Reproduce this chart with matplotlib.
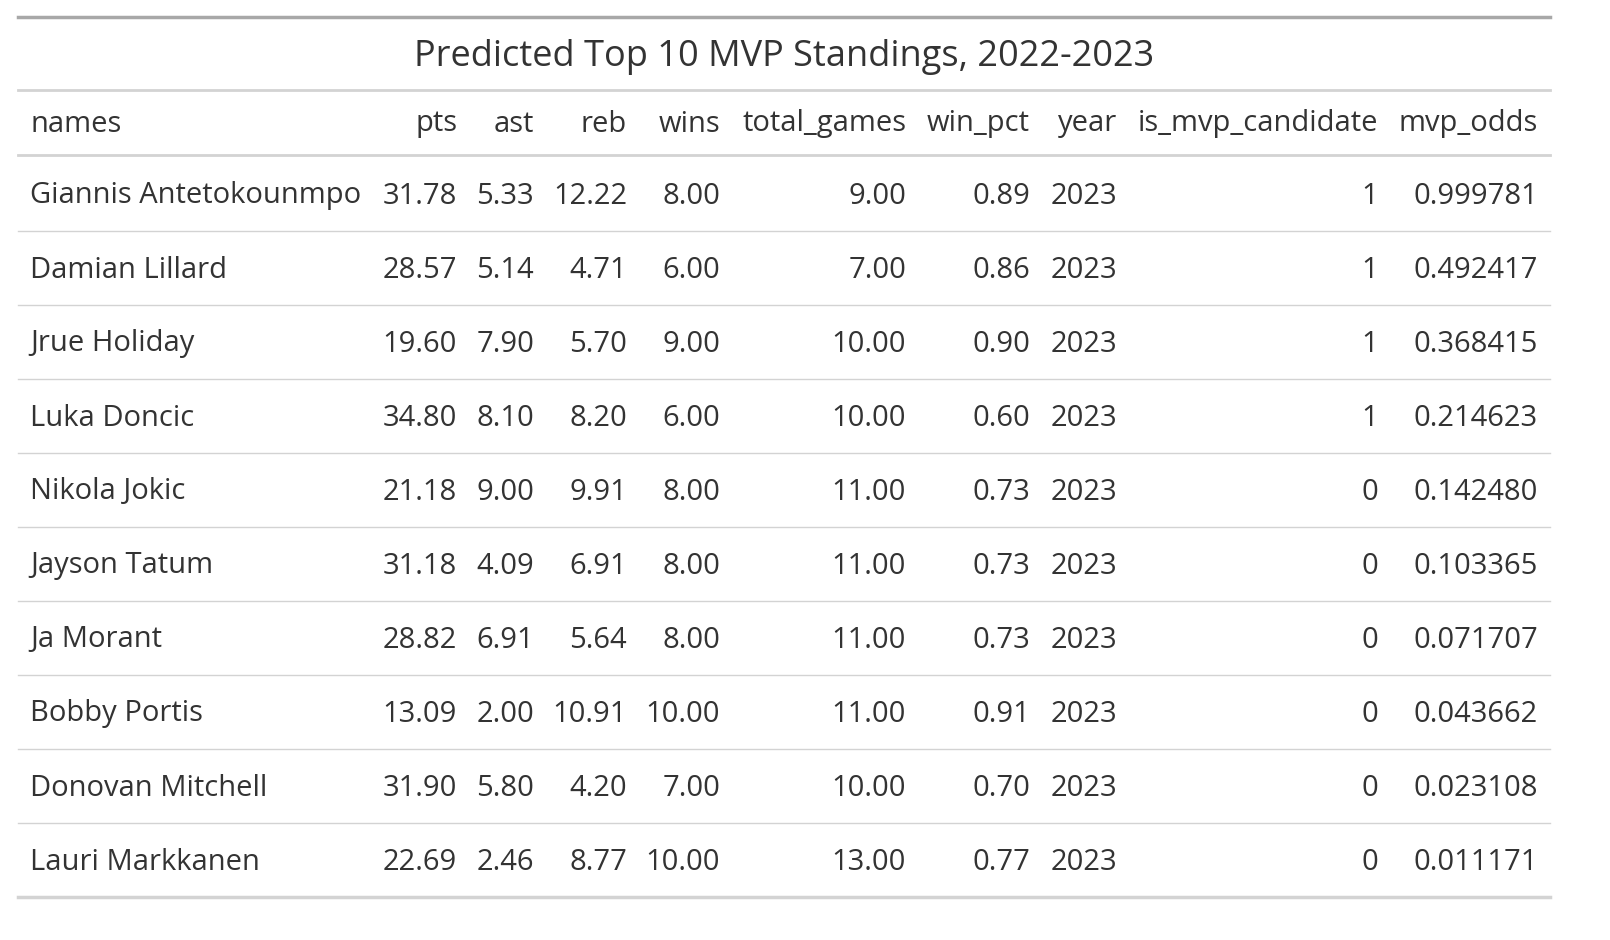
import matplotlib.pyplot as plt

names = ["Giannis Antetokounmpo", "Damian Lillard", "Jrue Holiday", "Luka Doncic",
         "Nikola Jokic", "Jayson Tatum", "Ja Morant", "Bobby Portis",
         "Donovan Mitchell", "Lauri Markkanen"]
pts = [31.78, 28.57, 19.60, 34.80, 21.18, 31.18, 28.82, 13.09, 31.90, 22.69]
ast = [5.33, 5.14, 7.90, 8.10, 9.00, 4.09, 6.91, 2.00, 5.80, 2.46]
reb = [12.22, 4.71, 5.70, 8.20, 9.91, 6.91, 5.64, 10.91, 4.20, 8.77]
wins = [8, 6, 9, 6, 8, 8, 8, 10, 7, 10]
total_games = [9, 7, 10, 10, 11, 11, 11, 11, 10, 13]
win_pct = [0.89, 0.86, 0.90, 0.60, 0.73, 0.73, 0.73, 0.91, 0.70, 0.77]
year = [2023] * 10
is_mvp_candidate = [1, 1, 1, 1, 0, 0, 0, 0, 0, 0]
mvp_odds = [0.999781, 0.492417, 0.368415, 0.214623, 0.142480,
            0.103365, 0.071707, 0.043662, 0.023108, 0.011171]

title = "Predicted Top 10 MVP Standings, 2022-2023"
headers = ["pts", "ast", "reb", "wins", "total_games", "win_pct", "year",
           "is_mvp_candidate", "mvp_odds"]
columns = [
    [f"{v:.2f}" for v in pts],
    [f"{v:.2f}" for v in ast],
    [f"{v:.2f}" for v in reb],
    [f"{v:.2f}" for v in wins],
    [f"{v:.2f}" for v in total_games],
    [f"{v:.2f}" for v in win_pct],
    [str(v) for v in year],
    [str(v) for v in is_mvp_candidate],
    [f"{v:.6f}" for v in mvp_odds],
]
right_edges = [457, 534, 627, 720, 906, 1030, 1117, 1378, 1538]

plt.rcParams["font.family"] = ["Open Sans", "DejaVu Sans"]
fig = plt.figure(figsize=(16.1, 9.4), dpi=100)
ax = fig.add_axes([0, 0, 1, 1])
ax.set_xlim(0, 1610)
ax.set_ylim(940, 0)
ax.axis("off")

txt = "#333333"
fs = 21
x0, x1 = 18, 1550

ax.plot([x0, x1], [17, 17], color="#a8a8a8", lw=2.5)
ax.text(784, 57, title, ha="center", va="center", fontsize=26, color=txt)
ax.plot([x0, x1], [90, 90], color="#d3d3d3", lw=2)

ax.text(30, 124, "names", ha="left", va="center", fontsize=fs, color=txt)
for h, xr in zip(headers, right_edges):
    ax.text(xr, 124, h, ha="right", va="center", fontsize=fs, color=txt)
ax.plot([x0, x1], [155, 155], color="#d3d3d3", lw=2)

row_h = 74
for i, n in enumerate(names):
    y = 196 + i * row_h
    ax.text(30, y, n, ha="left", va="center", fontsize=fs, color=txt)
    for col, xr in zip(columns, right_edges):
        ax.text(xr, y, col[i], ha="right", va="center", fontsize=fs, color=txt)
    if i < len(names) - 1:
        ax.plot([x0, x1], [y + 35, y + 35], color="#d3d3d3", lw=1)

ax.plot([x0, x1], [897, 897], color="#d3d3d3", lw=2.5)

fig.savefig("out.png", dpi=100, facecolor="white")
